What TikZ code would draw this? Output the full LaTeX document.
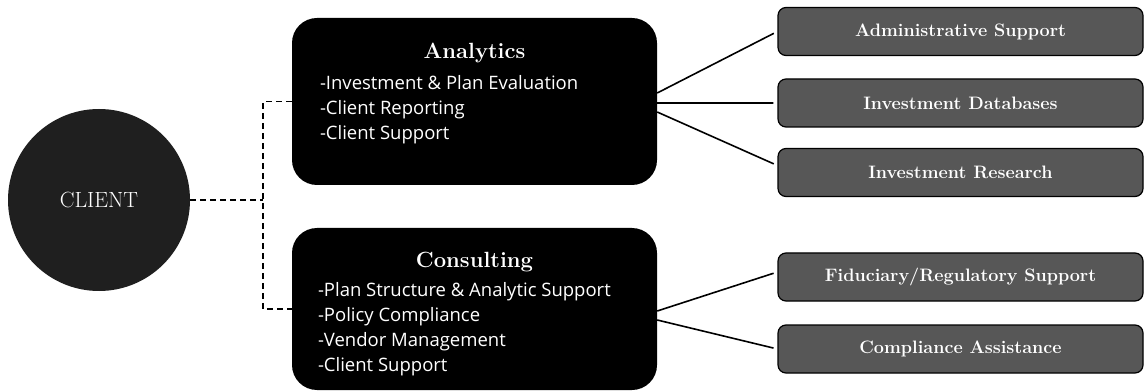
\documentclass[tikz,border=0pt]{standalone}
\usepackage{fontspec}
\newfontfamily\listfont{Open Sans}
\usetikzlibrary{positioning,calc}

\begin{document}
\begin{tikzpicture}[x=10pt,y=10pt,
    client/.style={circle,fill=black!88,text=white,minimum size=182pt,inner sep=0pt,font=\fontsize{22}{26}\selectfont},
    groupbox/.style={fill=black,rounded corners=25pt,minimum width=365pt,inner sep=0pt},
    grouptitle/.style={text=white,inner sep=0pt,font=\fontsize{22}{26}\selectfont\bfseries},
    grouplist/.style={text=white,inner sep=0pt,anchor=north west,align=left,font=\listfont\fontsize{18.5}{25}\selectfont},
    servicebox/.style={draw=black,line width=1.2pt,fill=black!66,text=white,rounded corners=8pt,minimum width=365pt,minimum height=48pt,inner sep=0pt,font=\fontsize{18}{20}\selectfont\bfseries},
    link/.style={line width=1.6pt,shorten >=4pt},
    dashlink/.style={line width=1.6pt,dash pattern=on 6pt off 4pt}]
    \useasboundingbox (0,0) rectangle (114.5,39.1);
    % client
    \node (client) at (9.9,19.1) [client]{CLIENT};
    % the two service groups
    \node (ana) at (47.45,28.95) [groupbox,minimum height=167pt]{};
    \node (anatitle) at ([yshift=-35pt]ana.north) [grouptitle]{Analytics};
    \node (analist) at ([xshift=28pt,yshift=-57pt]ana.north west) [grouplist]{-Investment \& Plan Evaluation\\-Client Reporting\\-Client Support};
    \node (cons) at (47.45,8.2) [groupbox,minimum height=162pt]{};
    \node (constitle) at ([yshift=-34pt]cons.north) [grouptitle]{Consulting};
    \node (conslist) at ([xshift=26pt,yshift=-54pt]cons.north west) [grouplist]{-Plan Structure \& Analytic Support\\-Policy Compliance\\-Vendor Management\\-Client Support};
    % services
    \node (admin) at (96.05,35.95) [servicebox]{Administrative Support};
    \node (invdb) at (96.05,28.8) [servicebox]{Investment Databases};
    \node (invres) at (96.05,21.85) [servicebox]{Investment Research};
    \node (fidu) at (96.05,11.4) [servicebox]{Fiduciary/Regulatory Support};
    \node (compl) at (96.05,4.2) [servicebox]{Compliance Assistance};
    % dashed split from the client
    \coordinate (split) at ([xshift=73pt]client.east);
    \draw[dashlink] (client.east) -- (split);
    \draw[dashlink] (ana.west) -| (split) |- (cons.west);
    % edges
    \draw[link] ([yshift=8.5pt]ana.east) -- (admin.west);
    \draw[link] ([yshift=-1.5pt]ana.east) -- (invdb.west);
    \draw[link] ([yshift=-10.5pt]ana.east) -- ([yshift=7pt]invres.west);
    \draw[link] ([yshift=-2pt]cons.east) -- ([yshift=5pt]fidu.west);
    \draw[link] ([yshift=-11pt]cons.east) -- (compl.west);
\end{tikzpicture}
\end{document}
